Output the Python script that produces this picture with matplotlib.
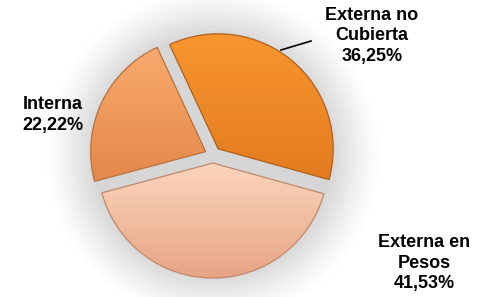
import matplotlib.pyplot as plt
import numpy as np
from matplotlib.colors import LinearSegmentedColormap

# data
labels = ["Externa no\nCubierta", "Externa en\nPesos", "Interna"]
values = [36.25, 41.53, 22.22]
tops = ["#F9962F", "#FDD6BD", "#F9AA6E"]
bottoms = ["#E27B1F", "#E6A484", "#E4884A"]
edges = ["#B0601C", "#C08868", "#B8703C"]

plt.rcParams['font.family'] = ['Liberation Sans', 'DejaVu Sans']

fig = plt.figure(figsize=(4.89, 2.97), dpi=100)
ax = fig.add_axes([0, 0, 1, 1])

R = 115.0  # pixels per unit radius
cx, cy = 213, 155
xl = (-cx / R, (489 - cx) / R)
yl = (-(297 - cy) / R, cy / R)
ax.set_aspect('equal')
ax.axis('off')

# soft grey glow behind the pie
for r, a in zip(np.linspace(1.45, 1.05, 12), np.linspace(0.015, 0.06, 12)):
    ax.add_patch(plt.Circle((0, 0), r, color="#9a9a9a", alpha=a, lw=0, zorder=0))

wedges, _ = ax.pie(values, colors=bottoms, startangle=115, counterclock=False,
                   explode=[0.07, 0.07, 0.07], radius=1.0,
                   wedgeprops=dict(linewidth=0.9), frame=False)

grad = np.linspace(0, 1, 256).reshape(-1, 1)
for w, t, b, ec in zip(wedges, tops, bottoms, edges):
    w.set_edgecolor(ec)
    w.set_zorder(3)
    w.set_facecolor('none')
    v = w.get_path().vertices
    cmap = LinearSegmentedColormap.from_list("g", [b, t])
    im = ax.imshow(grad, cmap=cmap,
                   extent=[v[:, 0].min(), v[:, 0].max(), v[:, 1].min(), v[:, 1].max()],
                   origin='lower', aspect='auto', zorder=2)
    im.set_clip_path(w)

ax.set_xlim(*xl)
ax.set_ylim(*yl)

txt = dict(fontsize=13, fontweight='bold', ha='center', va='center',
           linespacing=1.3, color='black')


def px(x, y):
    return (x - cx) / R, (cy - y) / R


for lab, v, pos in zip(labels, values, [(372, 36), (424, 263), (53, 115)]):
    s = lab + "\n" + f"{v:.2f}".replace(".", ",") + "%"
    ax.text(*px(*pos), s, **txt)

# leader line for the top label
x0, y0 = px(281, 50)
x1, y1 = px(311, 41)
ax.plot([x0, x1], [y0, y1], color='black', lw=1.2, zorder=4)

fig.savefig("out.png", dpi=100)
